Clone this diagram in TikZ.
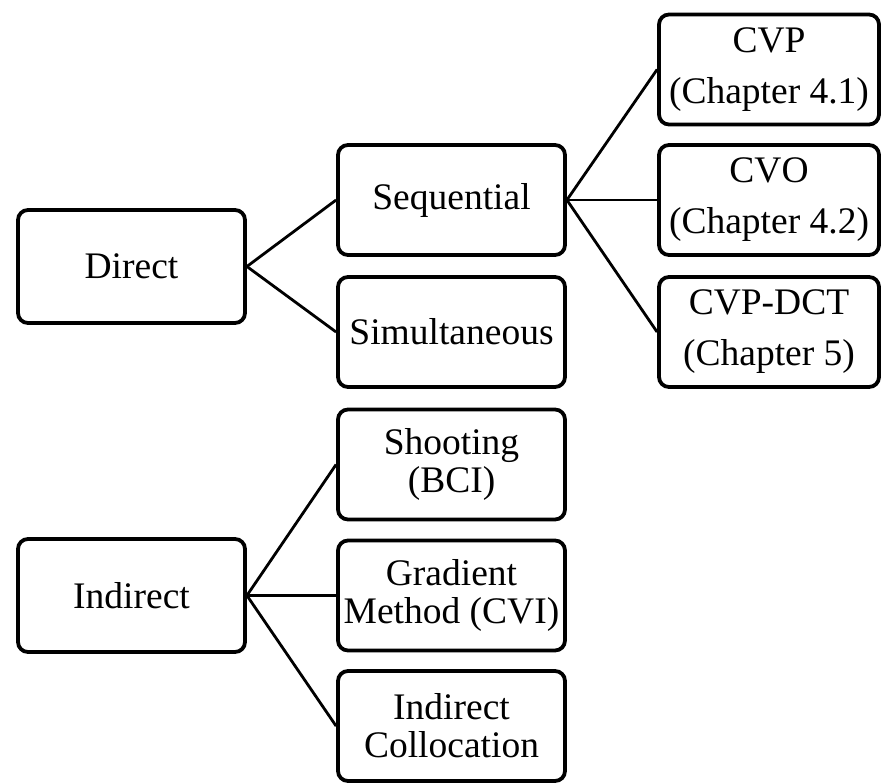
\documentclass[tikz,border=0pt]{standalone}
\usepackage{fontspec}
\setmainfont{Liberation Serif}
\begin{document}
\begin{tikzpicture}[x=1pt,y=-1pt,
  box/.style={draw=black, line width=3.8pt, rounded corners=10pt, fill=white,
    minimum height=110pt, inner sep=0pt, align=center,
    font=\fontsize{37.5}{38}\selectfont},
  wide/.style={minimum width=227pt},
  rbox/.style={box, minimum width=220pt, font=\fontsize{37.5}{51}\selectfont},
  link/.style={draw=black, line width=2.8pt}]
\fill[white] (0,0) rectangle (882,783);
\useasboundingbox (0,0) rectangle (882,783);
% left column
\node[box, wide, minimum height=113pt] (direct) at (131.5,266.5) {Direct};
\node[box, wide, minimum height=113pt] (indirect) at (131.5,595.5) {Indirect};
% middle column
\node[box, wide] (seq) at (451.5,200) {Sequential};
\node[box, wide] (sim) at (451.5,332) {Simultaneous};
\node[box, wide] (shoot) at (451.5,464.5) {Shooting\\(BCI)};
\node[box, wide] (grad) at (451.5,595.5) {Gradient\\Method (CVI)};
\node[box, wide] (coll) at (451.5,726) {Indirect\\Collocation};
% right column
\node[rbox] (cvp) at (769,69.5) {CVP\\(Chapter 4.1)};
\node[rbox] (cvo) at (769,200) {CVO\\(Chapter 4.2)};
\node[rbox] (dct) at (769,332) {CVP-DCT\\(Chapter 5)};
% connectors
\draw[link] (direct.east) -- (seq.west);
\draw[link] (direct.east) -- (sim.west);
\draw[link] (seq.east) -- (cvp.west);
\draw[link] (seq.east) -- (cvo.west);
\draw[link] (seq.east) -- (dct.west);
\draw[link] (indirect.east) -- (shoot.west);
\draw[link] (indirect.east) -- (grad.west);
\draw[link] (indirect.east) -- (coll.west);
\end{tikzpicture}
\end{document}
